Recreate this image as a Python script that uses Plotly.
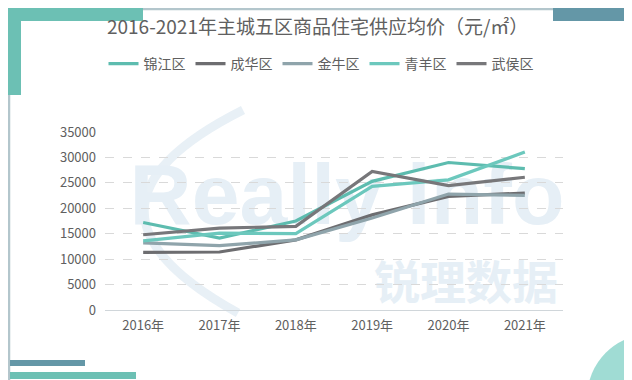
import plotly.graph_objects as go

years = ["2016年", "2017年", "2018年", "2019年", "2020年", "2021年"]
jinjiang = [17200, 14150, 17500, 25300, 29000, 27800]
chenghua = [11350, 11400, 13800, 18700, 22350, 23000]
jinniu = [13200, 12650, 13800, 18100, 22800, 22550]
qingyang = [13600, 15100, 15000, 24300, 25600, 31050]
wuhou = [14800, 16100, 16450, 27250, 24450, 26100]

series_names = ["锦江区", "成华区", "金牛区", "青羊区", "武侯区"]
series_vals = [jinjiang, chenghua, jinniu, qingyang, wuhou]
colors = ["#5dbcaf", "#6d6d70", "#8fa4ab", "#6cc8bd", "#77777a"]

W, H = 632, 380
L, R, T, B = 97, 555, 124, 302

def fx(p):
    return (p - L) / (R - L)

def fy(p):
    return (B - p) / (B - T)

FONT = "Noto Sans CJK SC"
fig = go.Figure()

for n, v, c in zip(series_names, series_vals, colors):
    fig.add_trace(go.Scatter(x=years, y=v, name=n, mode="lines",
                             line=dict(color=c, width=3.2)))

shapes = []
shapes.append(dict(type="rect", xref="paper", yref="paper", x0=fx(1), x1=fx(631), y0=fy(1), y1=fy(378.5),
                   line=dict(color="#b3c6cc", width=2.5), layer="below"))
shapes.append(dict(type="rect", xref="paper", yref="paper", x0=fx(0), x1=fx(135), y0=fy(0), y1=fy(13),
                   fillcolor="#6cc0b4", line=dict(width=0), layer="below"))
shapes.append(dict(type="rect", xref="paper", yref="paper", x0=fx(0), x1=fx(13), y0=fy(0), y1=fy(87),
                   fillcolor="#6cc0b4", line=dict(width=0), layer="below"))
shapes.append(dict(type="rect", xref="paper", yref="paper", x0=fx(545), x1=fx(632), y0=fy(0), y1=fy(13),
                   fillcolor="#6497a7", line=dict(width=0), layer="below"))
shapes.append(dict(type="rect", xref="paper", yref="paper", x0=fx(617), x1=fx(632), y0=fy(0), y1=fy(137),
                   fillcolor="#6497a7", line=dict(width=0), layer="below"))
shapes.append(dict(type="rect", xref="paper", yref="paper", x0=fx(2), x1=fx(77), y0=fy(352), y1=fy(358),
                   fillcolor="#6497a7", line=dict(width=0), layer="below"))
shapes.append(dict(type="rect", xref="paper", yref="paper", x0=fx(2), x1=fx(128), y0=fy(364), y1=fy(371),
                   fillcolor="#6cc0b4", line=dict(width=0), layer="below"))
cx, cy, r = 643, 390, 64
shapes.append(dict(type="circle", xref="paper", yref="paper", x0=fx(cx - r), x1=fx(cx + r), y0=fy(cy + r), y1=fy(cy - r),
                   fillcolor="#a0dcd4", line=dict(width=0), layer="below"))
shapes.append(dict(type="path", xref="paper", yref="paper",
                   path="M {},{} Q {},{} {},{}".format(fx(235), fy(102), fx(40), fy(200), fx(230), fy(305)),
                   line=dict(color="#e8f0f6", width=9), layer="below"))
shapes.append(dict(type="rect", xref="paper", yref="paper", x0=fx(100), x1=fx(578), y0=fy(220), y1=fy(136),
                   line=dict(width=0), fillcolor="rgba(0,0,0,0)", layer="below",
                   label=dict(text="<b>Really info</b>", textposition="middle center",
                              font=dict(family="Liberation Sans", size=86, color="#e6eff6"))))
shapes.append(dict(type="rect", xref="paper", yref="paper", x0=fx(340), x1=fx(576), y0=fy(300), y1=fy(256),
                   line=dict(width=0), fillcolor="rgba(0,0,0,0)", layer="below",
                   label=dict(text="<b>锐理数据</b>", textposition="middle center",
                              font=dict(family=FONT, size=46, color="#e6eff6"))))

fig.update_layout(
    width=W, height=H,
    margin=dict(l=L, r=W - R, t=T, b=H - B),
    paper_bgcolor="white", plot_bgcolor="rgba(0,0,0,0)",
    title=dict(text="2016-2021年主城五区商品住宅供应均价（元/㎡）", x=0.49, xanchor="center",
               y=1 - 19 / H, yanchor="middle", font=dict(family=FONT, size=19, color="#606060")),
    legend=dict(orientation="h", x=fx(313), xanchor="center", y=fy(56), yanchor="middle",
                font=dict(family=FONT, size=14, color="#606060"), bgcolor="rgba(0,0,0,0)",
                itemwidth=30, tracegroupgap=0),
    shapes=shapes,
    xaxis=dict(type="category", range=[-0.5, 5.5], showgrid=False, showline=True, linecolor="#d0d6da",
               linewidth=1, ticks="", tickfont=dict(family=FONT, size=13, color="#606060"), ticklabelstandoff=3),
    yaxis=dict(range=[0, 35000], dtick=5000, tickformat="d", showgrid=True, gridcolor="#d9d9d9", griddash="dash",
               gridwidth=1, zeroline=False, showline=False, ticks="",
               tickfont=dict(family=FONT, size=13, color="#606060"), ticklabelstandoff=8),
    hovermode=False,
)

fig.write_html("out.html")
